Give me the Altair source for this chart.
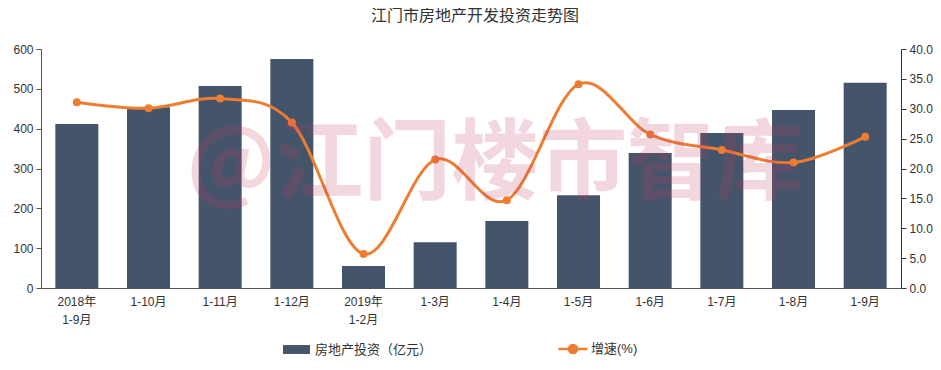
import altair as alt
import pandas as pd

title_text = "江门市房地产开发投资走势图"
watermark = "@江门楼市智库"
categories = ["2018年\n1-9月\u00a0\u00a0\u00a0", "1-10月", "1-11月", "1-12月", "2019年\n1-2月\u00a0\u00a0\u00a0",
              "1-3月", "1-4月", "1-5月", "1-6月", "1-7月", "1-8月", "1-9月"]
invest = [412, 454, 507, 575, 55, 115, 168, 233, 339, 389, 447, 515]
growth = [31.1, 30.1, 31.7, 27.7, 5.7, 21.5, 14.7, 34.1, 25.7, 23.1, 21.0, 25.3]
bar_name = "房地产投资（亿元）"
line_name = "增速(%)"
left_ticks = [0, 100, 200, 300, 400, 500, 600]
right_ticks = [0, 5, 10, 15, 20, 25, 30, 35, 40]

BAR = "#44546A"
ORANGE = "#ED7D31"
FONT = "Liberation Sans, Noto Sans CJK SC, sans-serif"

df = pd.DataFrame({"cat": categories, "invest": invest, "growth": growth,
                   "bar_s": bar_name, "line_s": line_name})

xenc = alt.X("cat:N", sort=categories,
             scale=alt.Scale(paddingInner=0, paddingOuter=0),
             axis=alt.Axis(title=None, labelAngle=0, ticks=False, labelPadding=8,
                           labelFontSize=12, labelColor="#333", labelFont=FONT,
                           labelLineHeight=18, domainColor="#555",
                           labelExpr="split(datum.label, '\\n')"))

base = alt.Chart(df)

bars = base.mark_bar(size=43).encode(
    x=xenc,
    y=alt.Y("invest:Q", scale=alt.Scale(domain=[0, 600]),
            axis=alt.Axis(title=None, values=left_ticks, grid=False, tickSize=5,
                          labelPadding=3, labelFontSize=12, labelColor="#333",
                          labelFont=FONT, domainColor="#555", tickColor="#555")),
    fill=alt.Fill("bar_s:N", scale=alt.Scale(domain=[bar_name], range=[BAR]),
                  legend=alt.Legend(orient="none", legendX=242, legendY=287, title=None,
                                    symbolType="M-1,-0.33H1V0.33H-1Z", symbolSize=729,
                                    symbolStrokeWidth=0, labelFontSize=13, labelColor="#333",
                                    labelFont=FONT, labelOffset=5, padding=0)),
)

yline = alt.Y("growth:Q", scale=alt.Scale(domain=[0, 40]),
              axis=alt.Axis(title=None, orient="right", values=right_ticks, format=".1f",
                            grid=False, tickSize=5, labelPadding=3, labelFontSize=12,
                            labelColor="#333", labelFont=FONT, domainColor="#333",
                            tickColor="#333"))

line = base.mark_line(interpolate="cardinal", tension=0, strokeWidth=3).encode(
    x=xenc,
    y=yline,
    stroke=alt.Stroke("line_s:N", scale=alt.Scale(domain=[line_name], range=[ORANGE]),
                      legend=alt.Legend(orient="none", legendX=516, legendY=284, title=None,
                                        symbolType="M-1,0L1,0M0.28,0A0.28,0.28,0,1,1,-0.28,0A0.28,0.28,0,1,1,0.28,0Z",
                                        symbolSize=841, symbolStrokeWidth=2.5,
                                        symbolFillColor=ORANGE, labelFontSize=13,
                                        labelColor="#333", labelFont=FONT, labelOffset=2,
                                        padding=0)),
)

points = base.mark_point(filled=True, size=64, opacity=1, color=ORANGE).encode(
    x=xenc, y=yline)

wm = alt.Chart(pd.DataFrame({"t": [watermark]})).mark_text(
    fontSize=88, font="Noto Sans CJK SC", fontWeight="bold", color="#c83c64", opacity=0.2,
    align="center", baseline="middle").encode(
    text="t:N", x=alt.value(454), y=alt.value(117))

title = alt.Chart(pd.DataFrame({"t": [title_text]})).mark_text(
    fontSize=16, font=FONT, color="#333", align="center", baseline="middle").encode(
    text="t:N", x=alt.value(434), y=alt.value(-33))

chart = alt.layer(bars, alt.layer(line, points), wm, title).resolve_scale(
    y="independent", fill="independent", stroke="independent"
).properties(
    width=860, height=239,
    padding={"left": 33, "top": 41, "right": 32, "bottom": 74},
    autosize=alt.AutoSizeParams(type="none"),
).configure_view(stroke=None)

chart.save("out.html", embed_options={"renderer": "svg", "actions": False})
